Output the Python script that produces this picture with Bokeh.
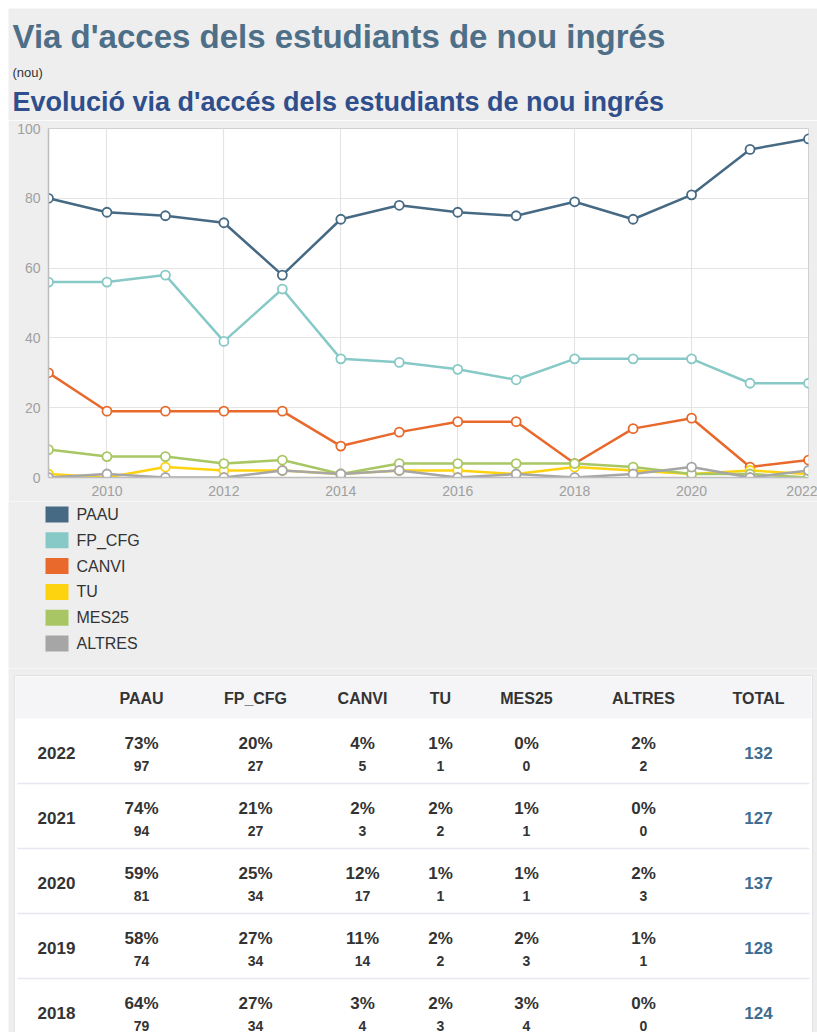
from bokeh.plotting import figure
from bokeh.models import Range1d, ColumnDataSource, FixedTicker, Spacer
from bokeh.layouts import column, row
from bokeh.embed import file_html
from bokeh.resources import INLINE
from bokeh.core.properties import value

# ---------------- data ----------------
years = list(range(2009, 2023))
series_names = ["PAAU", "FP_CFG", "CANVI", "TU", "MES25", "ALTRES"]
paau = [80, 76, 75, 73, 58, 74, 78, 76, 75, 79, 74, 81, 94, 97]
fp_cfg = [56, 56, 58, 39, 54, 34, 33, 31, 28, 34, 34, 34, 27, 27]
canvi = [30, 19, 19, 19, 19, 9, 13, 16, 16, 4, 14, 17, 3, 5]
tu = [1, 0, 3, 2, 2, 1, 2, 2, 1, 3, 2, 1, 2, 1]
mes25 = [8, 6, 6, 4, 5, 1, 4, 4, 4, 4, 3, 1, 1, 0]
altres = [0, 1, 0, 0, 2, 1, 2, 0, 1, 0, 1, 3, 0, 2]
series_values = [paau, fp_cfg, canvi, tu, mes25, altres]
series_colors = ["#476a84", "#86c9c6", "#e8692b", "#fdd20e", "#a8c764", "#a6a6a6"]

x_ticks = [2010, 2012, 2014, 2016, 2018, 2020, 2022]
y_ticks = [0, 20, 40, 60, 80, 100]

table_years = ["2022", "2021", "2020", "2019", "2018"]
table_columns = ["PAAU", "FP_CFG", "CANVI", "TU", "MES25", "ALTRES"]
pct_paau = [73, 74, 59, 58, 64]
pct_fp_cfg = [20, 21, 25, 27, 27]
pct_canvi = [4, 2, 12, 11, 3]
pct_tu = [1, 2, 1, 2, 2]
pct_mes25 = [0, 1, 1, 2, 3]
pct_altres = [2, 0, 2, 1, 0]
cnt_paau = [97, 94, 81, 74, 79]
cnt_fp_cfg = [27, 27, 34, 34, 34]
cnt_canvi = [5, 3, 17, 14, 4]
cnt_tu = [1, 2, 1, 2, 3]
cnt_mes25 = [0, 1, 1, 3, 4]
cnt_altres = [2, 0, 3, 1, 0]
table_pcts = [pct_paau, pct_fp_cfg, pct_canvi, pct_tu, pct_mes25, pct_altres]
table_counts = [cnt_paau, cnt_fp_cfg, cnt_canvi, cnt_tu, cnt_mes25, cnt_altres]
table_totals = [132, 127, 137, 128, 124]

title_text = "Via d'acces dels estudiants de nou ingrés"
note_text = "(nou)"
subtitle_text = "Evolució via d'accés dels estudiants de nou ingrés"

# ---------------- style ----------------
W = 809
BG = "#eeeeee"
FONT = "Liberation Sans"


def blank(h):
    f = figure(width=W, height=h, x_range=Range1d(0, W), y_range=Range1d(h, 0),
               x_axis_type=None, y_axis_type=None, output_backend="svg",
               toolbar_location=None, min_border=0, frame_align=False)
    f.grid.visible = False
    f.outline_line_color = None
    f.background_fill_color = BG
    f.border_fill_color = BG
    return f


# ---------------- header ----------------
hdr = blank(112)
hdr.text([4], [28], text=[title_text], text_font=value(FONT), text_font_size="33px",
         text_font_style="bold", text_color="#4e6f88", text_baseline="middle")
hdr.text([4], [64], text=[note_text], text_font=value(FONT), text_font_size="13px",
         text_color="#333333", text_baseline="middle")
hdr.text([4], [93], text=[subtitle_text], text_font=value(FONT), text_font_size="27px",
         text_font_style="bold", text_color="#2f4f8c", text_baseline="middle")

# ---------------- chart ----------------
p = figure(width=W, height=381, x_range=Range1d(2009, 2022), y_range=Range1d(0, 100),
           output_backend="svg", toolbar_location=None, frame_align=False,
           min_border_left=40, min_border_right=9, min_border_top=8, min_border_bottom=24)
p.background_fill_color = "white"
p.border_fill_color = BG
p.outline_line_color = "#d0d0d0"
p.xaxis.ticker = FixedTicker(ticks=x_ticks)
p.yaxis.ticker = FixedTicker(ticks=y_ticks)
for ax in (p.xaxis[0], p.yaxis[0]):
    ax.axis_line_color = "#bdbdbd"
    ax.axis_line_width = 1.5
    ax.major_tick_line_color = None
    ax.minor_tick_line_color = None
    ax.major_tick_out = 0
    ax.major_tick_in = 0
    ax.major_label_text_font = FONT
    ax.major_label_text_font_size = "14px"
    ax.major_label_text_color = "#a0a0a0"
    ax.major_label_standoff = 8
p.grid.grid_line_color = "#e4e4e4"
p.grid.grid_line_width = 1.2

for name, vals, col in zip(series_names, series_values, series_colors):
    src = ColumnDataSource(dict(x=years, y=vals))
    p.line("x", "y", source=src, line_color=col, line_width=2.5)
    p.scatter("x", "y", source=src, size=9, fill_color="white", line_color=col, line_width=1.8)

# ---------------- legend ----------------
leg = blank(167)
idx = list(range(len(series_names)))
leg_src = ColumnDataSource(dict(
    x=[48.5] * len(idx),
    tx=[68] * len(idx),
    y=[13 + i * 25.8 for i in idx],
    name=series_names,
    color=series_colors,
))
leg.rect("x", "y", width=23, height=16, source=leg_src, fill_color="color", line_color=None)
leg.text("tx", "y", text="name", source=leg_src, text_font=value(FONT), text_font_size="16px",
         text_color="#333333", text_baseline="middle", text_align="left")

# ---------------- table ----------------
tbl = blank(364)
col_x = [48, 133, 247, 354, 432, 518, 635, 750]
box_top, head_bot, row_h = 7, 50, 65
tbl.quad(left=[6], right=[804], top=[box_top], bottom=[400], fill_color="white",
         line_color="#e2e2e2")
tbl.quad(left=[7], right=[803], top=[box_top + 1], bottom=[head_bot], fill_color="#f5f5f7",
         line_color=None)
sep_y = [head_bot + row_h * (k + 1) for k in range(len(table_years) - 1)]
tbl.segment(x0=[9] * len(sep_y), x1=[801] * len(sep_y), y0=sep_y, y1=sep_y,
            line_color="#e6e8f0", line_width=1.5)

hdr_src = ColumnDataSource(dict(x=col_x[1:], y=[30] * 7, t=table_columns + ["TOTAL"]))
tbl.text("x", "y", text="t", source=hdr_src, text_font=value(FONT), text_font_size="16px",
         text_font_style="bold", text_color="#333333", text_align="center", text_baseline="middle")

rows_top = [head_bot + i * row_h for i in range(len(table_years))]
year_src = ColumnDataSource(dict(x=[col_x[0]] * len(table_years), y=[t + 34 for t in rows_top],
                                 t=table_years))
tbl.text("x", "y", text="t", source=year_src, text_font=value(FONT), text_font_size="17px",
         text_font_style="bold", text_color="#333333", text_align="center", text_baseline="middle")
tot_src = ColumnDataSource(dict(x=[col_x[7]] * len(table_years), y=[t + 34 for t in rows_top],
                                t=[str(v) for v in table_totals]))
tbl.text("x", "y", text="t", source=tot_src, text_font=value(FONT), text_font_size="17px",
         text_font_style="bold", text_color="#3f6d91", text_align="center", text_baseline="middle")

px, py, pt, cx, cy, ct = [], [], [], [], [], []
for j, (pcts, cnts) in enumerate(zip(table_pcts, table_counts)):
    for i in range(len(table_years)):
        px.append(col_x[j + 1]); py.append(rows_top[i] + 25); pt.append(f"{pcts[i]}%")
        cx.append(col_x[j + 1]); cy.append(rows_top[i] + 47); ct.append(str(cnts[i]))
tbl.text(px, py, text=pt, text_font=value(FONT), text_font_size="17px", text_font_style="bold",
         text_color="#333333", text_align="center", text_baseline="middle")
tbl.text(cx, cy, text=ct, text_font=value(FONT), text_font_size="14px", text_font_style="bold",
         text_color="#333333", text_align="center", text_baseline="middle")

inner = column(hdr, p, leg, tbl, spacing=0)
layout = column(Spacer(width=817, height=8), row(Spacer(width=8, height=1024), inner, spacing=0),
                spacing=0)
open("out.html", "w").write(file_html(layout, INLINE))
